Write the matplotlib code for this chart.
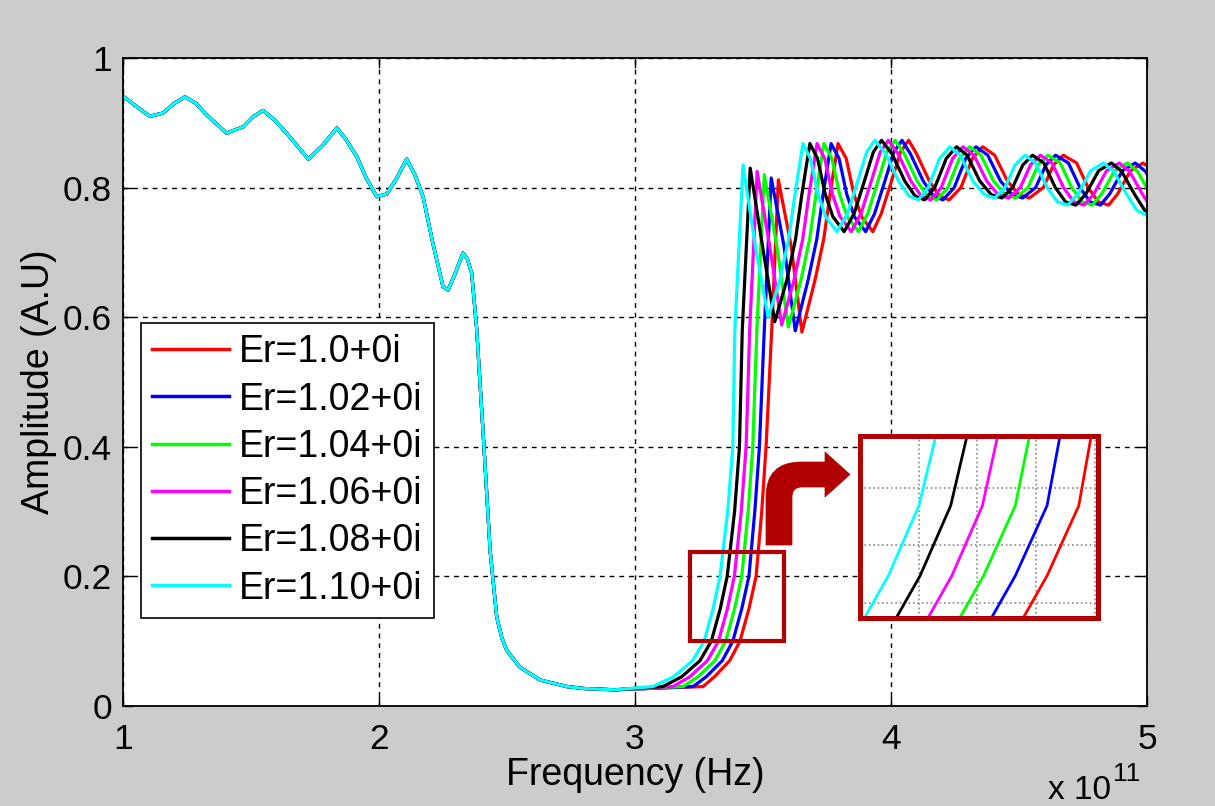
import matplotlib
matplotlib.use('Agg')
import matplotlib.pyplot as plt
from matplotlib.patches import Rectangle, PathPatch
from matplotlib.path import Path

plt.rcParams['font.family'] = ['Liberation Sans', 'DejaVu Sans']

# ---------------- data (frequency in units of 1e11 Hz) ----------------
labels = ['Er=1.0+0i', 'Er=1.02+0i', 'Er=1.04+0i', 'Er=1.06+0i', 'Er=1.08+0i', 'Er=1.10+0i']
colors = ['#ff0000', '#0000ff', '#00ff00', '#ff00ff', '#000000', '#00ffff']

# shared lower band (all curves nearly coincide here)
low_x = [1.0, 1.053, 1.105, 1.156, 1.20, 1.242, 1.285, 1.327, 1.405, 1.47, 1.51, 1.547,
         1.59, 1.639, 1.724, 1.782, 1.835, 1.87, 1.913, 1.95, 1.991, 2.03, 2.07, 2.108,
         2.14, 2.172, 2.21, 2.25, 2.27, 2.30, 2.328, 2.345, 2.362, 2.381, 2.41, 2.434,
         2.444, 2.46, 2.48, 2.499, 2.55, 2.63, 2.734, 2.80, 2.86]
low_y = [0.941, 0.925, 0.910, 0.915, 0.93, 0.940, 0.93, 0.912, 0.884, 0.894, 0.91, 0.919,
         0.905, 0.884, 0.844, 0.866, 0.892, 0.875, 0.848, 0.815, 0.786, 0.79, 0.815, 0.844,
         0.82, 0.786, 0.715, 0.647, 0.642, 0.67, 0.699, 0.69, 0.668, 0.585, 0.40, 0.24,
         0.20, 0.137, 0.105, 0.086, 0.06, 0.04, 0.03, 0.027, 0.026]

# upper band: amplitudes (shared shape) and per-series frequencies
upper_y = [0.025, 0.03, 0.045, 0.07, 0.10, 0.15, 0.20, 0.30, 0.40, 0.58,
           0.835, 0.71, 0.600, 0.657, 0.72, 0.79, 0.868,
           0.845, 0.79, 0.755, 0.732, 0.76, 0.81, 0.855, 0.873,
           0.852, 0.81, 0.787, 0.781, 0.80, 0.845, 0.863,
           0.85, 0.81, 0.789, 0.784, 0.80, 0.835, 0.850,
           0.838, 0.80, 0.778, 0.773, 0.79, 0.826, 0.838,
           0.825, 0.79, 0.765, 0.758, 0.775, 0.81, 0.83]
peak1_y = [0.812, 0.815, 0.82, 0.825, 0.83, 0.835]   # red ... cyan
dip1_y = [0.577, 0.579, 0.585, 0.588, 0.593, 0.600]

red_x = [2.92, 3.266, 3.31, 3.37, 3.41, 3.445, 3.473, 3.495, 3.512, 3.534,
         3.56, 3.61, 3.652, 3.703, 3.737, 3.762, 3.793,
         3.825, 3.855, 3.885, 3.929, 3.962, 4.002, 4.037, 4.069,
         4.10, 4.15, 4.19, 4.227, 4.273, 4.318, 4.358,
         4.405, 4.455, 4.50, 4.541, 4.595, 4.635, 4.673,
         4.725, 4.77, 4.81, 4.85, 4.885, 4.935, 4.985,
         5.025, 5.075, 5.115, 5.15, 5.195, 5.245, 5.295]
blue_x = [2.92, 3.227, 3.278, 3.341, 3.382, 3.417, 3.445, 3.468, 3.486, 3.505,
          3.532, 3.582, 3.626, 3.676, 3.710, 3.735, 3.766,
          3.797, 3.827, 3.857, 3.901, 3.936, 3.976, 4.011, 4.043,
          4.076, 4.126, 4.166, 4.203, 4.247, 4.292, 4.332,
          4.378, 4.428, 4.473, 4.514, 4.565, 4.605, 4.643,
          4.693, 4.738, 4.778, 4.818, 4.854, 4.904, 4.954,
          4.994, 5.044, 5.084, 5.119, 5.164, 5.214, 5.264]
green_x = [2.92, 3.188, 3.246, 3.312, 3.354, 3.389, 3.417, 3.442, 3.460, 3.476,
           3.505, 3.554, 3.599, 3.648, 3.682, 3.707, 3.738,
           3.769, 3.799, 3.829, 3.873, 3.909, 3.949, 3.984, 4.016,
           4.052, 4.102, 4.142, 4.179, 4.222, 4.267, 4.307,
           4.351, 4.401, 4.446, 4.487, 4.535, 4.575, 4.613,
           4.661, 4.706, 4.746, 4.786, 4.823, 4.873, 4.923,
           4.963, 5.013, 5.053, 5.088, 5.133, 5.183, 5.233]
magenta_x = [2.92, 3.148, 3.214, 3.283, 3.326, 3.361, 3.388, 3.415, 3.434, 3.448,
             3.477, 3.526, 3.573, 3.621, 3.655, 3.680, 3.711,
             3.741, 3.771, 3.801, 3.845, 3.883, 3.923, 3.958, 3.990,
             4.028, 4.078, 4.118, 4.155, 4.196, 4.241, 4.281,
             4.324, 4.374, 4.419, 4.460, 4.505, 4.545, 4.583,
             4.629, 4.674, 4.714, 4.754, 4.792, 4.842, 4.892,
             4.932, 4.982, 5.022, 5.057, 5.102, 5.152, 5.202]
black_x = [2.92, 3.109, 3.182, 3.254, 3.298, 3.333, 3.360, 3.389, 3.408, 3.419,
           3.450, 3.498, 3.546, 3.593, 3.627, 3.652, 3.683,
           3.713, 3.743, 3.773, 3.817, 3.856, 3.896, 3.931, 3.963,
           4.004, 4.054, 4.094, 4.131, 4.171, 4.216, 4.256,
           4.297, 4.347, 4.392, 4.433, 4.475, 4.515, 4.553,
           4.597, 4.642, 4.682, 4.722, 4.761, 4.811, 4.861,
           4.901, 4.951, 4.991, 5.026, 5.071, 5.121, 5.171]
cyan_x = [2.92, 3.07, 3.15, 3.225, 3.27, 3.305, 3.332, 3.362, 3.382, 3.39,
          3.422, 3.47, 3.52, 3.566, 3.60, 3.625, 3.656,
          3.685, 3.715, 3.745, 3.789, 3.83, 3.87, 3.905, 3.937,
          3.98, 4.03, 4.07, 4.107, 4.145, 4.19, 4.23,
          4.27, 4.32, 4.365, 4.406, 4.445, 4.485, 4.523,
          4.565, 4.61, 4.65, 4.69, 4.73, 4.78, 4.83,
          4.87, 4.92, 4.96, 4.995, 5.04, 5.09, 5.14]
upper_x = [red_x, blue_x, green_x, magenta_x, black_x, cyan_x]

x_ticks = [1, 2, 3, 4, 5]
y_ticks = [0, 0.2, 0.4, 0.6, 0.8, 1.0]
y_ticklabels = ['0', '0.2', '0.4', '0.6', '0.8', '1']

# highlighted region and zoom window
box_x, box_y, box_w, box_h = 3.215, 0.100, 0.367, 0.138
zoom_xlim = (3.28, 3.49)
zoom_ylim = (0.12, 0.25)

DARK_RED = '#b00000'

# ---------------- figure ----------------
W, H = 1215, 806
fig = plt.figure(figsize=(W / 100, H / 100), dpi=100, facecolor='#cccccc')
ax = fig.add_axes([123 / W, 100 / H, 1024 / W, 648 / H])
ax.set_facecolor('white')


def series(i):
    ys = list(upper_y)
    ys[10] = peak1_y[i]
    ys[12] = dip1_y[i]
    return low_x + upper_x[i], low_y + ys


for i in range(6):
    xs, ys = series(i)
    ax.plot(xs, ys, color=colors[i], lw=2.3, label=labels[i])

ax.set_xlim(1, 5)
ax.set_ylim(0, 1)
ax.set_xticks(x_ticks)
ax.set_xticklabels([str(t) for t in x_ticks])
ax.set_yticks(y_ticks)
ax.set_yticklabels(y_ticklabels)
ax.tick_params(direction='in', length=7, width=1, top=True, right=True,
               labelsize=25.5, colors='black')
ax.tick_params(axis='x', pad=12)
ax.tick_params(axis='y', pad=8)
ax.grid(True, color='black', linestyle=(0, (3.5, 3.5)), lw=1.0)
for s in ax.spines.values():
    s.set_linewidth(1.3)
    s.set_color('black')

ax.set_xlabel('Frequency (Hz)', fontsize=27, labelpad=1)
ax.set_ylabel('Amplitude (A.U)', fontsize=27, labelpad=4)

fig.text(1048 / W, 1 - 799 / H, 'x 10', fontsize=24, ha='left', va='baseline')
fig.text(1113 / W, 1 - 781 / H, '11', fontsize=19, ha='left', va='baseline')

leg = ax.legend(loc='lower left', bbox_to_anchor=(0.0176, 0.136), borderaxespad=0,
                fontsize=27, frameon=True, fancybox=False, edgecolor='black',
                framealpha=1, handlelength=2.05, handletextpad=0.27,
                labelspacing=0.3, borderpad=0.3)
leg.get_frame().set_linewidth(1.2)
for ln in leg.get_lines():
    ln.set_linewidth(2.5)

# highlighted small box
ax.add_patch(Rectangle((box_x, box_y), box_w, box_h, fill=False,
                       ec=DARK_RED, lw=3, zorder=5))

# bent arrow (figure pixel coordinates measured from the top-left)
arrow_pts = [(766, 545), (766, 497), (766, 462), (801, 462), (825, 462), (825, 452),
             (850, 474.5), (825, 497), (825, 487), (802, 487), (792, 487), (792, 497),
             (792, 545), (766, 545)]
codes = [Path.MOVETO, Path.LINETO, Path.CURVE3, Path.CURVE3, Path.LINETO, Path.LINETO,
         Path.LINETO, Path.LINETO, Path.LINETO, Path.LINETO, Path.CURVE3, Path.CURVE3,
         Path.LINETO, Path.CLOSEPOLY]
verts = [(px / W, 1 - py / H) for px, py in arrow_pts]
fig.add_artist(PathPatch(Path(verts, codes), transform=fig.transFigure,
                         fc=DARK_RED, ec=DARK_RED, lw=0.5, zorder=6))

# zoom inset
axins = ax.inset_axes([0.7197, 0.136, 0.2325, 0.2813])
axins.set_facecolor('white')
for i in range(6):
    xs, ys = series(i)
    axins.plot(xs, ys, color=colors[i], lw=2.0)
axins.set_xlim(*zoom_xlim)
axins.set_ylim(*zoom_ylim)
xr = zoom_xlim[1] - zoom_xlim[0]
yr = zoom_ylim[1] - zoom_ylim[0]
axins.set_xticks([zoom_xlim[0] + f * xr for f in (0.247, 0.49, 0.74, 0.986)])
axins.set_yticks([zoom_ylim[0] + f * yr for f in (0.08, 0.40, 0.71)])
axins.tick_params(length=0, labelbottom=False, labelleft=False)
axins.grid(True, color='#888888', linestyle=':', lw=1.2)
for s in axins.spines.values():
    s.set_linewidth(3.6)
    s.set_color(DARK_RED)
axins.set_zorder(7)

fig.savefig('out.png', dpi=100, facecolor=fig.get_facecolor())
